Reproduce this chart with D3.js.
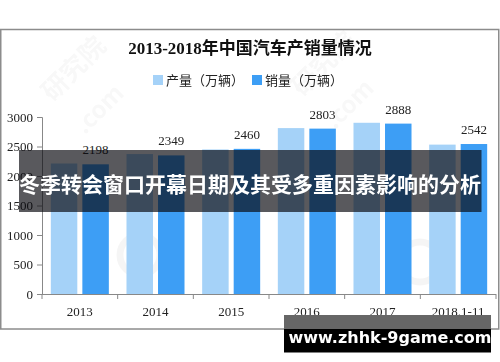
<!DOCTYPE html>
<html>
<head>
<meta charset="utf-8">
<script src="https://cdn.jsdelivr.net/npm/d3@7"></script>
<style>
  body { margin: 0; background: #fff; }
  svg { display: block; }
</style>
</head>
<body>
<div id="chart"></div>
<script>
var categories = ["2013", "2014", "2015", "2016", "2017", "2018.1-11"];
var series = ["产量（万辆）", "销量（万辆）"];
var production = [2212, 2372, 2450, 2812, 2902, 2532];
var sales = [2198, 2349, 2460, 2803, 2888, 2542];
var yTicks = [0, 500, 1000, 1500, 2000, 2500, 3000];
var colors = ["#a5d2f8", "#3d9ef5"];

var width = 500, height = 362;
var serif = "'Liberation Serif', 'Times New Roman', 'Noto Sans CJK SC', serif";
var cjk = "'Noto Sans CJK SC', sans-serif";

var svg = d3.select("#chart").append("svg")
    .attr("width", width)
    .attr("height", height);

// chart frame
svg.append("rect")
    .attr("x", 0.75).attr("y", 29.5)
    .attr("width", 498).attr("height", 299.5)
    .attr("fill", "#fff")
    .attr("stroke", "#8c8c8c")
    .attr("stroke-width", 1.5);

// faint watermarks
var wm = svg.append("g").attr("fill", "#000").attr("opacity", 0.03)
    .attr("font-family", cjk).attr("font-weight", "bold");
[[80, 75], [330, 70]].forEach(function(p) {
    wm.append("text")
        .attr("transform", "translate(" + p[0] + "," + p[1] + ") rotate(-45)")
        .attr("text-anchor", "middle")
        .attr("font-size", 26)
        .text("研究院");
    wm.append("text")
        .attr("transform", "translate(" + (p[0] + 25) + "," + (p[1] + 40) + ") rotate(-45)")
        .attr("text-anchor", "middle")
        .attr("font-size", 24)
        .text(".com");
});
[[140, 255], [420, 262]].forEach(function(p) {
    svg.append("circle")
        .attr("cx", p[0]).attr("cy", p[1]).attr("r", 20)
        .attr("fill", "none")
        .attr("stroke", "#000").attr("stroke-opacity", 0.04)
        .attr("stroke-width", 7);
});

// title
svg.append("text")
    .attr("x", 250).attr("y", 54)
    .attr("text-anchor", "middle")
    .attr("font-family", serif)
    .attr("font-weight", "bold")
    .attr("font-size", 17)
    .attr("fill", "#111")
    .text("2013-2018年中国汽车产销量情况");

// legend
var legendX = [153, 252];
var legend = svg.append("g");
series.forEach(function(s, i) {
    legend.append("rect")
        .attr("x", legendX[i]).attr("y", 75)
        .attr("width", 10).attr("height", 10)
        .attr("fill", colors[i]);
    legend.append("text")
        .attr("x", legendX[i] + 13).attr("y", 85)
        .attr("font-family", cjk)
        .attr("font-size", 13)
        .attr("fill", "#222")
        .text(s);
});

// scales
var x = d3.scaleBand().domain(categories).range([42, 496]).padding(0);
var xSub = d3.scaleBand().domain(series).range([0, x.bandwidth()])
    .paddingInner(0.16).paddingOuter(0.28);
var y = d3.scaleLinear().domain([0, 3000]).range([294, 117]);

var data = categories.map(function(c, i) {
    return { cat: c, values: [production[i], sales[i]] };
});

// bars
var groups = svg.append("g").selectAll("g")
    .data(data).enter().append("g")
    .attr("transform", function(d) { return "translate(" + x(d.cat) + ",0)"; });

groups.selectAll("rect")
    .data(function(d) { return d.values.map(function(v, i) { return { s: series[i], v: v, i: i }; }); })
    .enter().append("rect")
    .attr("x", function(d) { return xSub(d.s); })
    .attr("width", xSub.bandwidth())
    .attr("y", function(d) { return y(d.v); })
    .attr("height", function(d) { return y(0) - y(d.v); })
    .attr("fill", function(d) { return colors[d.i]; });

// value labels on sales bars
groups.append("text")
    .attr("x", function() { return xSub(series[1]) + xSub.bandwidth() / 2; })
    .attr("y", function(d) { return y(d.values[1]) - 10; })
    .attr("text-anchor", "middle")
    .attr("font-family", serif)
    .attr("font-size", 13)
    .attr("fill", "#222")
    .text(function(d) { return d.values[1]; });

// y axis
var yAxis = svg.append("g")
    .attr("transform", "translate(42,0)")
    .call(d3.axisLeft(y).tickValues(yTicks).tickSize(5).tickPadding(4).tickFormat(d3.format("d")));
yAxis.select(".domain").attr("stroke", "#888");
yAxis.selectAll(".tick line").attr("stroke", "#888");
yAxis.selectAll("text").attr("font-family", serif).attr("font-size", 13).attr("fill", "#222");

// x axis
var xAxis = svg.append("g")
    .attr("transform", "translate(0,294)")
    .call(d3.axisBottom(x).tickSize(0).tickPadding(13));
xAxis.select(".domain").attr("stroke", "#888").attr("d", "M42,0.5H496");
xAxis.selectAll("text").attr("font-family", serif).attr("font-size", 13).attr("fill", "#222");
var bounds = categories.map(function(c) { return x(c); }).concat([x.range()[1]]);
xAxis.selectAll(".bound").data(bounds).enter().append("line")
    .attr("x1", function(d) { return d; }).attr("x2", function(d) { return d; })
    .attr("y1", 0).attr("y2", 5)
    .attr("stroke", "#888");

// overlay banner
svg.append("rect")
    .attr("x", 19).attr("y", 150)
    .attr("width", 462.5).attr("height", 62)
    .attr("fill", "rgba(8,8,14,0.67)");
svg.append("text")
    .attr("x", 250).attr("y", 192)
    .attr("text-anchor", "middle")
    .attr("font-family", cjk)
    .attr("font-weight", "bold")
    .attr("font-size", 21)
    .attr("fill", "#fff")
    .text("冬季转会窗口开幕日期及其受多重因素影响的分析");

// site banner
svg.append("rect")
    .attr("x", 284).attr("y", 315).attr("width", 207).attr("height", 14)
    .attr("fill", "#666");
svg.append("rect")
    .attr("x", 284).attr("y", 329).attr("width", 207).attr("height", 23.5)
    .attr("fill", "#000");
svg.append("text")
    .attr("x", 390).attr("y", 343)
    .attr("text-anchor", "middle")
    .attr("font-family", "'DejaVu Sans', Verdana, sans-serif")
    .attr("font-weight", "bold")
    .attr("font-size", 16)
    .attr("fill", "#fff")
    .text("www.zhhk-9game.com");
</script>
</body>
</html>
